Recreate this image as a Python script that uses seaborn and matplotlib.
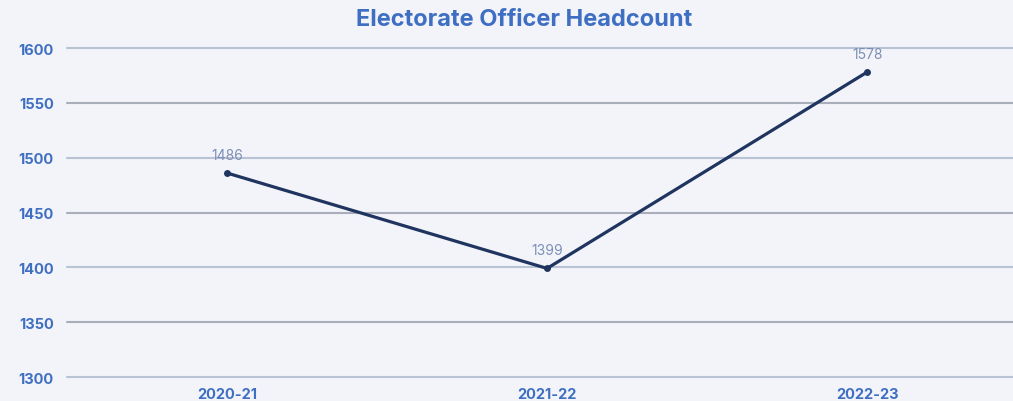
import matplotlib
matplotlib.use("Agg")
import matplotlib.pyplot as plt
import seaborn as sns
import pandas as pd

years = ["2020-21", "2021-22", "2022-23"]
headcount = [1486, 1399, 1578]
yticks = [1300, 1350, 1400, 1450, 1500, 1550, 1600]

sns.set_theme(style="white")
plt.rcParams['font.family'] = ['Inter', 'DejaVu Sans']

df = pd.DataFrame({"year": years, "headcount": headcount})

W, H = 1013, 402
fig = plt.figure(figsize=(W / 100, H / 100), dpi=100)
fig.patch.set_facecolor("#f3f4f9")
ax = fig.add_axes([67 / W, (H - 378) / H, 946 / W, 329 / H])
ax.set_facecolor("#f3f4f9")

for v in yticks:
    c = "#b9c3d6" if (v // 50) % 2 == 0 else "#a9aebb"
    ax.axhline(v, color=c, lw=1.5, zorder=0, clip_on=False)

sns.lineplot(data=df, x="year", y="headcount", ax=ax, color="#1f3560",
             lw=2.3, marker="o", markersize=5, markeredgewidth=0, sort=False)

for i, v in enumerate(headcount):
    ax.annotate(str(v), (i, v), xytext=(0, 8), textcoords="offset points",
                ha="center", va="bottom", color="#7d8fb5", fontsize=10)

ax.set_xlim(-0.5, 2.456)
ax.set_ylim(1300, 1600)
ax.set_yticks(yticks)
ax.set_yticklabels([str(v) for v in yticks])
for s in ax.spines.values():
    s.set_visible(False)
ax.tick_params(axis="both", length=0, colors="#3f6fc2", labelsize=10.5)
ax.tick_params(axis="y", pad=9.5)
ax.tick_params(axis="x", pad=7)
for lab in ax.get_xticklabels() + ax.get_yticklabels():
    lab.set_fontweight("bold")
ax.set_xlabel("")
ax.set_ylabel("")

fig.text(524.5 / W, 1 - 20 / H, "Electorate Officer Headcount", ha="center", va="center",
         color="#3f6fc2", fontsize=17, fontweight="bold")

fig.savefig("out.png", dpi=100, facecolor=fig.get_facecolor())
